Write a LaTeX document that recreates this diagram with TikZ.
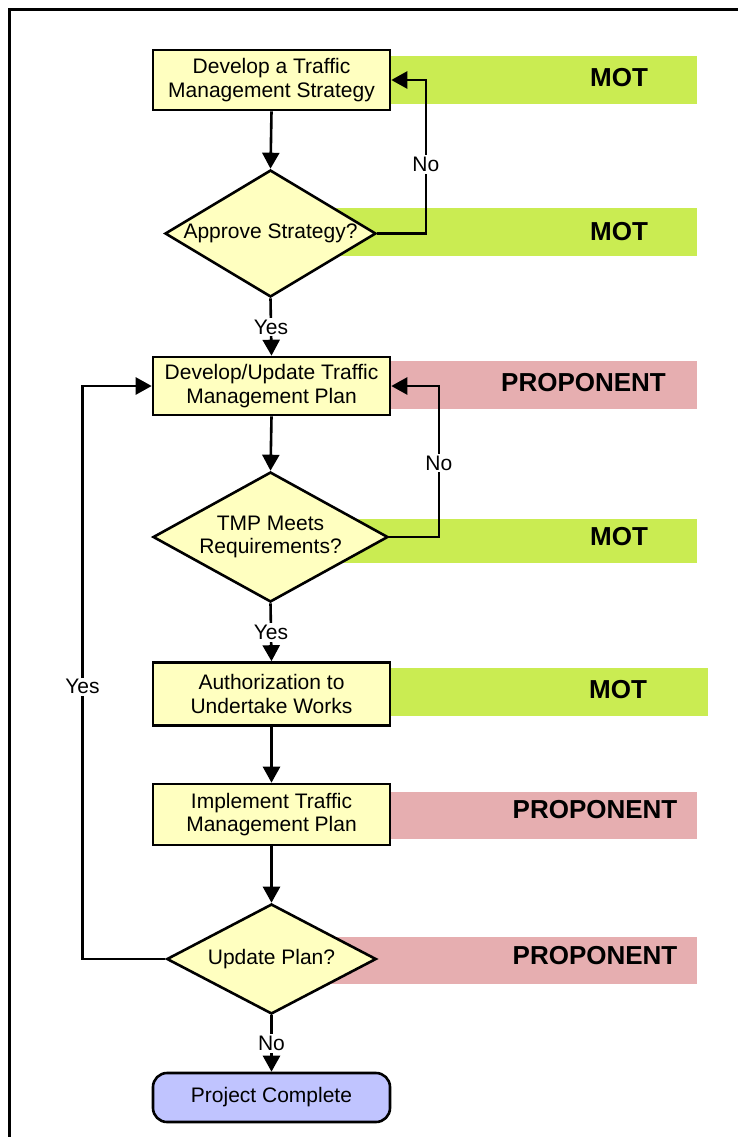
\documentclass[tikz,border=0pt]{standalone}
\usepackage{fontspec}
\setmainfont{Liberation Sans}
\usetikzlibrary{shapes.geometric,arrows.meta}
\definecolor{boxyellow}{RGB}{255,255,192}
\definecolor{bargreen}{RGB}{202,236,82}
\definecolor{barpink}{RGB}{230,174,176}
\definecolor{termblue}{RGB}{192,196,255}
\tikzset{
  every picture/.style={x=1pt,y=-1pt},
  stepbox/.style={draw,line width=2.6pt,fill=boxyellow,rectangle,minimum width=237pt,inner sep=0pt,align=center,font=\fontsize{21}{23.5}\selectfont},
  decision/.style={draw,line width=2.6pt,fill=boxyellow,diamond,inner sep=0pt,align=center,font=\fontsize{21}{23.5}\selectfont},
  terminal/.style={draw,line width=2.6pt,fill=termblue,rectangle,rounded corners=14pt,minimum width=237pt,minimum height=49pt,inner sep=0pt,font=\fontsize{21}{23.5}\selectfont},
  flow/.style={line width=2.6pt,-{Triangle[length=16pt,width=17pt]}},
  lbl/.style={fill=white,inner sep=2pt,font=\fontsize{21}{23.5}\selectfont},
  role/.style={font=\bfseries\fontsize{26}{28}\selectfont,inner sep=0pt},
}
\begin{document}
\begin{tikzpicture}
\useasboundingbox (0,0) rectangle (738,1137);
\fill[white] (0,0) rectangle (738,1137);
% frame
\draw[line width=2.5pt] (9.5,1137) -- (9.5,9.5) -- (738,9.5);
% role bars
\fill[bargreen] (300,56) rectangle (696.5,104);
\fill[bargreen] (300,208) rectangle (696.5,256);
\fill[barpink]  (300,361) rectangle (696.5,409);
\fill[bargreen] (300,519) rectangle (696.5,563);
\fill[bargreen] (300,668) rectangle (708,716);
\fill[barpink]  (300,792) rectangle (696.5,839);
\fill[barpink]  (300,937) rectangle (696.5,984);
\node[role] (r1) at (619,78) {MOT};
\node[role] (r2) at (619,232) {MOT};
\node[role] (r3) at (583.5,383) {PROPONENT};
\node[role] (r4) at (619,537) {MOT};
\node[role] (r5) at (618,690) {MOT};
\node[role] (r6) at (595,810) {PROPONENT};
\node[role] (r7) at (595,956) {PROPONENT};
% flow nodes
\node[stepbox,minimum height=60pt] (b1) at (271.5,80) {Develop a Traffic\\Management Strategy};
\node[decision,shape aspect=1.66,minimum width=211pt,minimum height=127pt] (d1) at (270.5,233.5) {Approve Strategy?};
\node[stepbox,minimum height=58pt] (b2) at (271.5,386) {Develop/Update Traffic\\Management Plan};
\node[decision,shape aspect=1.81,minimum width=235pt,minimum height=130pt] (d2) at (270.5,537) {TMP Meets\\Requirements?};
\node[stepbox,minimum height=63pt] (b3) at (271.5,694) {Authorization to\\Undertake Works};
\node[stepbox,minimum height=61pt] (b4) at (271.5,814.5) {Implement Traffic\\Management Plan};
\node[decision,shape aspect=1.9,minimum width=209.5pt,minimum height=110pt] (d3) at (271.5,959) {Update Plan?};
\node[terminal] (t) at (271.5,1097.5) {Project Complete};
% connectors
\draw[flow] (b1.south) -- (d1.north);
\draw[flow] (d1.east) -- ++(48.5,0) -- node[lbl,pos=0.45]{No} ++(0,-153.5) -- (b1.east);
\draw[flow] (d1.south) -- node[lbl]{Yes} (b2.north);
\draw[flow] (b2.south) -- (d2.north);
\draw[flow] (d2.east) -- ++(49.6,0) -- node[lbl,pos=0.49]{No} ++(0,-151) -- (b2.east);
\draw[flow] (d2.south) -- node[lbl]{Yes} (b3.north);
\draw[flow] (b3.south) -- (b4.north);
\draw[flow] (b4.south) -- (d3.north);
\draw[flow] (d3.west) -- (82.4,959) -- node[lbl,pos=0.475]{Yes} (82.4,386) -- (b2.west);
\draw[flow] (d3.south) -- node[lbl]{No} (t.north);
\end{tikzpicture}
\end{document}
